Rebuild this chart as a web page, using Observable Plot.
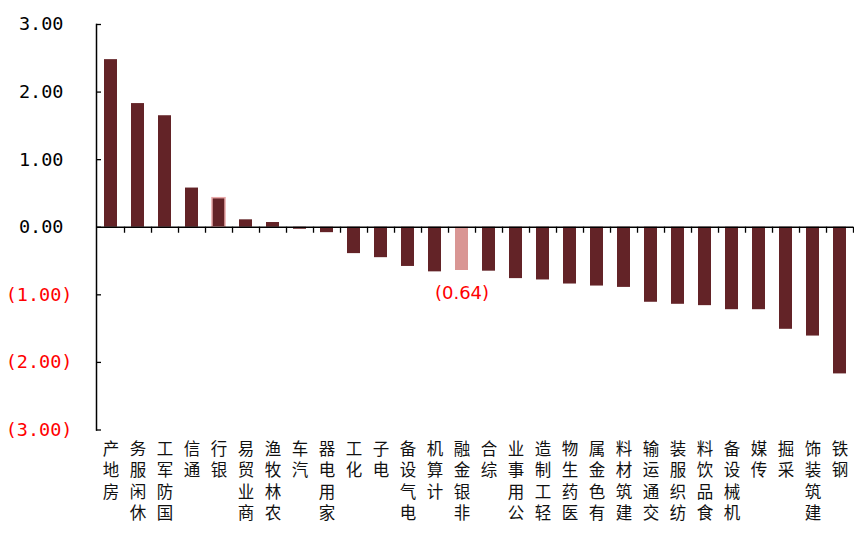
<!DOCTYPE html>
<html>
<head>
<meta charset="utf-8">
<script src="https://cdn.jsdelivr.net/npm/d3@7"></script>
<script src="https://cdn.jsdelivr.net/npm/@observablehq/plot@0.6"></script>
<style>
  html, body { margin: 0; padding: 0; background: #fff; }
  #chart svg { display: block; }
</style>
</head>
<body>
<div id="chart"></div>
<script>
// Industry names, in bar order
const industries = [
  "房地产", "休闲服务", "国防军工", "通信", "银行", "商业贸易", "农林牧渔",
  "汽车", "家用电器", "化工", "电子", "电气设备", "计算机", "非银金融",
  "综合", "公用事业", "轻工制造", "医药生物", "有色金属", "建筑材料",
  "交通运输", "纺织服装", "食品饮料", "机械设备", "传媒", "采掘",
  "建筑装饰", "钢铁"
];

// Change for each industry
const changes = [
  2.48, 1.83, 1.65, 0.58, 0.43, 0.11, 0.07,
  -0.03, -0.08, -0.39, -0.45, -0.58, -0.66, -0.64,
  -0.65, -0.76, -0.78, -0.84, -0.87, -0.89,
  -1.11, -1.14, -1.16, -1.22, -1.22, -1.51,
  -1.61, -2.17
];

// Bar that gets an outline, and bar that is filled in light pink and labelled
const outlined = "银行";
const labelled = "非银金融";

// Y axis ticks
const positiveTicks = [0, 1, 2, 3];
const negativeTicks = [-1, -2, -3];

const data = industries.map((name, i) => ({name, value: changes[i]}));

const W = 854, H = 538;
const mL = 96, mR = 1, mT = 24, mB = 108.5;
const step = (W - mL - mR) / industries.length;

const fmt = v => v < 0 ? `(${Math.abs(v).toFixed(2)})` : v.toFixed(2);

// Each label is written bottom-to-top with upright characters:
// one text mark per character slot, counted from the top.
const maxChars = d3.max(industries, s => s.length);
const pitch = 21.5;
const labelMarks = d3.range(maxChars).map(k =>
  Plot.text(industries.filter(s => s.length > k), {
    x: d => d,
    text: d => [...d].reverse()[k],
    frameAnchor: "bottom", lineAnchor: "top", dy: 13 + k * pitch,
    fontSize: 16.5,
    fontFamily: "'Liberation Sans', 'Noto Sans CJK SC', sans-serif",
    fill: "#111"
  })
);

const maroon = "#632327";
const pink = "#D99694";

const chart = Plot.plot({
  width: W,
  height: H,
  marginLeft: mL,
  marginRight: mR,
  marginTop: mT,
  marginBottom: mB,
  x: {domain: industries, paddingInner: 0.52, paddingOuter: 0.26, axis: null},
  y: {domain: [-3, 3], axis: null},
  marks: [
    Plot.barY(data, {
      x: "name",
      y: "value",
      fill: d => d.name === labelled ? pink : maroon,
      stroke: d => d.name === outlined ? "#E8A9A9" : "none",
      strokeWidth: 1.5
    }),
    // axis lines
    Plot.ruleY([0], {stroke: "#000", strokeWidth: 1.5}),
    Plot.frame({anchor: "left", stroke: "#000", strokeWidth: 1.5}),
    // y ticks pointing inward
    Plot.ruleY([...positiveTicks, ...negativeTicks], {
      y: d => d, stroke: "#000", strokeWidth: 1.3,
      insetRight: W - mL - mR - 5
    }),
    // x ticks at category boundaries, hanging below the zero line
    Plot.ruleX(industries, {
      x: d => d, y1: 0, y2: 0, insetBottom: -6,
      dx: step / 2, stroke: "#000", strokeWidth: 1.3
    }),
    // y tick labels
    Plot.axisY({
      ticks: positiveTicks, tickSize: 0, tickPadding: 33, tickFormat: fmt,
      label: null, fontSize: 18.5, fontFamily: "DejaVu Sans Mono", fill: "#000"
    }),
    Plot.axisY({
      ticks: negativeTicks, tickSize: 0, tickPadding: 24, tickFormat: fmt,
      label: null, fontSize: 18.5, fontFamily: "DejaVu Sans Mono", fill: "#FF0000"
    }),
    // category labels
    ...labelMarks,
    // value label for the highlighted bar
    Plot.text(data.filter(d => d.name === labelled), {
      x: "name", y: "value", text: d => fmt(d.value),
      lineAnchor: "top", dy: 16, fontSize: 18,
      fontFamily: "DejaVu Sans", fill: "#FF0000"
    })
  ]
});

document.getElementById("chart").append(chart);
</script>
</body>
</html>
